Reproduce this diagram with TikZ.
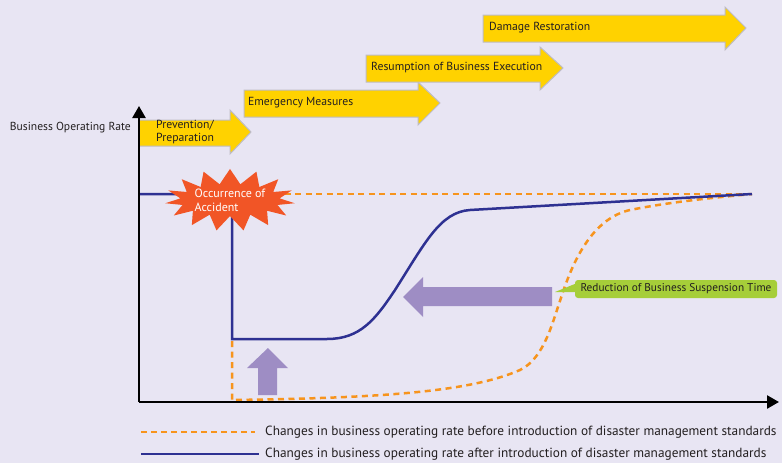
\documentclass[tikz,border=0pt]{standalone}
\usepackage{fontspec}
\setmainfont{PT Sans}
\usetikzlibrary{arrows.meta, shapes.symbols}
\definecolor{bgcol}{RGB}{232,229,243}
\definecolor{phasefill}{RGB}{255,210,0}
\definecolor{phaseedge}{RGB}{190,188,196}
\definecolor{navyline}{RGB}{46,49,146}
\definecolor{orangeline}{RGB}{247,148,29}
\definecolor{accfill}{RGB}{241,85,38}
\definecolor{shiftfill}{RGB}{158,141,196}
\definecolor{notefill}{RGB}{166,206,57}
\definecolor{textcol}{RGB}{35,31,32}

\begin{document}
\begin{tikzpicture}[x=1pt, y=-1pt,
	phase/.style={fill=phasefill, draw=phaseedge, line width=1pt},
	phasetext/.style={anchor=west, align=left, inner sep=0pt, text=textcol, font=\fontsize{11.7}{13}\selectfont},
	before/.style={orangeline, line width=2.5pt, dash pattern=on 6pt off 4.5pt},
	after/.style={navyline, line width=2.5pt},
	axis/.style={line width=2.5pt, -{Triangle[width=13pt,length=12pt]}},
	shiftarrow/.style={fill=shiftfill},
	legendtext/.style={anchor=west, inner sep=0pt, text=textcol, font=\fontsize{13.3}{15}\selectfont}]
	\fill[bgcol] (0,0) rectangle (782,463);
	\useasboundingbox (0,0) rectangle (782,463);

	\filldraw[phase] (139,120) -- (230,120) -- (230,110) -- (251,132) -- (230,154) -- (230,146) -- (139,146) -- cycle;
	\filldraw[phase] (244,90) -- (418,90) -- (418,82) -- (440,103) -- (418,125) -- (418,117) -- (244,117) -- cycle;
	\filldraw[phase] (366,55) -- (540,55) -- (540,47) -- (563,68) -- (540,90) -- (540,82) -- (366,82) -- cycle;
	\filldraw[phase] (483,15) -- (725,15) -- (725,7) -- (746,28) -- (725,50) -- (725,42) -- (483,42) -- cycle;
	\node[phasetext] (prev) at (156,132) {Prevention/\\Preparation};
	\node[phasetext] (emerg) at (248,103) {Emergency Measures};
	\node[phasetext] (resume) at (371,68) {Resumption of Business Execution};
	\node[phasetext] (restore) at (489,28) {Damage Restoration};

	\coordinate (O) at (139,402);
	\coordinate (ytop) at (139,106);
	\coordinate (xend) at (779,402);
	\node[anchor=east, inner sep=0pt, text=textcol, font=\fontsize{11.6}{13}\selectfont] (ylab) at (131,128) {Business Operating Rate};

	\draw[before] (232,194) -- (752,194);
	\draw[before] (232,341) -- (232,400) .. controls (380,398) and (470,392) .. (520,370) .. controls (545,358) and (553,320) .. (562,295) .. controls (575,255) and (595,218) .. (630,210) .. controls (670,202) and (710,198) .. (752,194);
	\draw[after] (O |- 0,194) -- (232,194) -- (232,339) -- (327,339) .. controls (360,339) and (375,320) .. (395,290) .. controls (425,243) and (440,212) .. (470,210) -- (752,194);

	\node[starburst, fill=accfill, starburst points=15, starburst point height=15pt, random starburst=0, minimum width=104pt, minimum height=50pt, inner sep=0pt, align=left, text=white, font=\fontsize{12}{14}\selectfont] (acc) at (230,200) {Occurrence of\\Accident};

	\fill[shiftarrow] (403,297) -- (423,277) -- (423,287) -- (552,287) -- (552,306) -- (423,306) -- (423,317) -- cycle;
	\fill[shiftarrow] (268,348) -- (288,368) -- (277,368) -- (277,395) -- (258,395) -- (258,368) -- (247,368) -- cycle;

	\node[fill=notefill, rounded corners=3pt, minimum width=202pt, minimum height=18pt, inner sep=0pt, text=textcol, font=\fontsize{11.3}{13}\selectfont] (note) at (676,289) {Reduction of Business Suspension Time};
	\fill[notefill] ([yshift=-3pt]note.west) -- (555,292) -- ([yshift=5pt]note.west) -- cycle;

	\draw[axis] (O) -- (ytop);
	\draw[axis] (O) -- (xend);

	\coordinate (k1) at (141,432);
	\coordinate (k2) at (255,432);
	\coordinate (k3) at (141,454);
	\coordinate (k4) at (259,454);
	\draw[before, dash pattern=on 6pt off 4pt] (k1) -- (k2);
	\draw[after] (k3) -- (k4);
	\node[legendtext] (legbefore) at (265,432) {Changes in business operating rate before introduction of disaster management standards};
	\node[legendtext] (legafter) at (265,454) {Changes in business operating rate after introduction of disaster management standards};
\end{tikzpicture}
\end{document}
